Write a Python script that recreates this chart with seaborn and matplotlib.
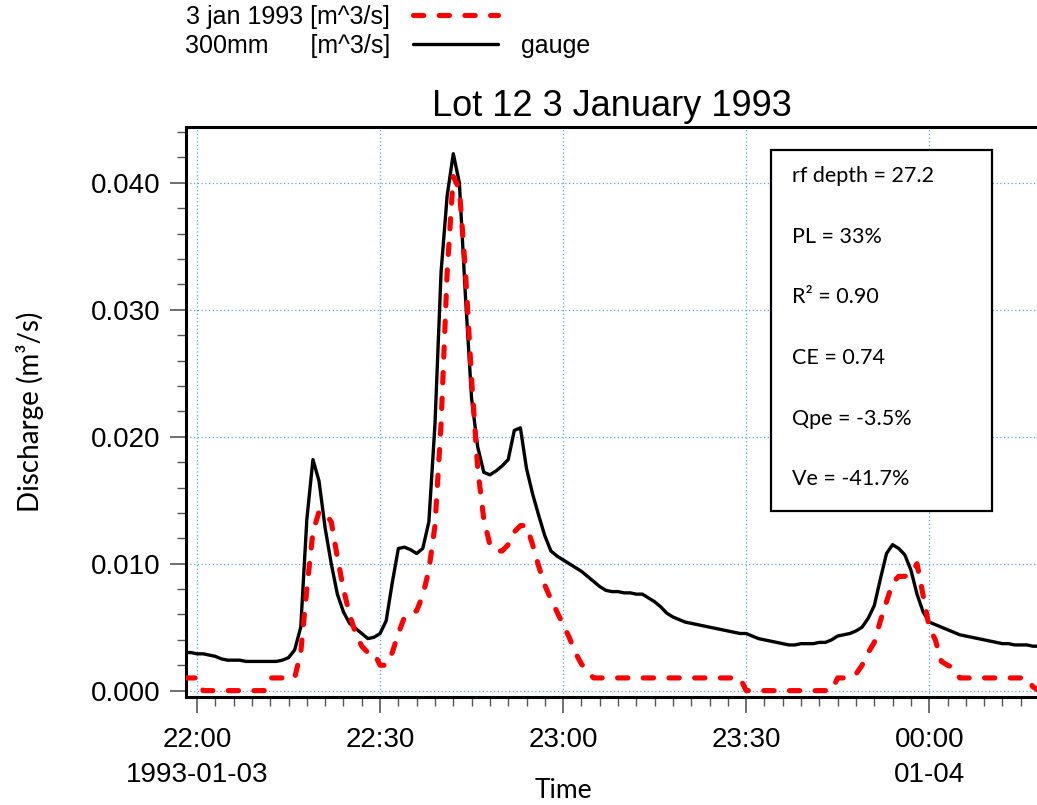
import numpy as np
import pandas as pd
import matplotlib
matplotlib.use("Agg")
import matplotlib.pyplot as plt
import matplotlib.dates as mdates
from matplotlib.ticker import FuncFormatter, MultipleLocator
from matplotlib.patches import Rectangle
import seaborn as sns

# ---- data: 1-minute discharge series starting 1993-01-03 21:58 ----
series_start = "1993-01-03 21:58"

modelled = [
    0.0010, 0.0010, 0.0010, 0.0000, 0.0000, 0.0000, 0.0000, 0.0000, 0.0000, 0.0000,  # 21:58
    0.0000, 0.0000, 0.0000, 0.0000, 0.0010, 0.0010, 0.0010, 0.0010, 0.0010, 0.0030,  # 22:08
    0.0080, 0.0125, 0.0141, 0.0140, 0.0133, 0.0105, 0.0080, 0.0060, 0.0045, 0.0035,  # 22:18
    0.0030, 0.0030, 0.0020, 0.0020, 0.0030, 0.0045, 0.0058, 0.0060, 0.0063, 0.0075,  # 22:28
    0.0095, 0.0130, 0.0210, 0.0330, 0.0405, 0.0395, 0.0330, 0.0245, 0.0175, 0.0135,  # 22:38
    0.0115, 0.0110, 0.0110, 0.0115, 0.0125, 0.0130, 0.0130, 0.0115, 0.0098, 0.0083,  # 22:48
    0.0072, 0.0062, 0.0052, 0.0042, 0.0030, 0.0021, 0.0015, 0.0010, 0.0010, 0.0010,  # 22:58
    0.0010, 0.0010, 0.0010, 0.0010, 0.0010, 0.0010, 0.0010, 0.0010, 0.0010, 0.0010,  # 23:08
    0.0010, 0.0010, 0.0010, 0.0010, 0.0010, 0.0010, 0.0010, 0.0010, 0.0010, 0.0010,  # 23:18
    0.0010, 0.0010, 0.0000, 0.0000, 0.0000, 0.0000, 0.0000, 0.0000, 0.0000, 0.0000,  # 23:28
    0.0000, 0.0000, 0.0000, 0.0000, 0.0000, 0.0000, 0.0000, 0.0010, 0.0010, 0.0010,  # 23:38
    0.0013, 0.0020, 0.0030, 0.0038, 0.0055, 0.0070, 0.0085, 0.0090, 0.0090, 0.0092,  # 23:48
    0.0100, 0.0075, 0.0050, 0.0040, 0.0023, 0.0020, 0.0018, 0.0010, 0.0010, 0.0010,  # 23:58
    0.0010, 0.0010, 0.0010, 0.0010, 0.0010, 0.0010, 0.0010, 0.0010, 0.0010, 0.0003,  # 00:08
    0.0000,                                                                          # 00:18
]

gauge = [
    0.0030, 0.0030, 0.0029, 0.0029, 0.0028, 0.0027, 0.0025, 0.0024, 0.0024, 0.0024,
    0.0023, 0.0023, 0.0023, 0.0023, 0.0023, 0.0023, 0.0024, 0.0026, 0.0032, 0.0050,
    0.0135, 0.0182, 0.0165, 0.0128, 0.0100, 0.0076, 0.0062, 0.0053, 0.0049, 0.0045,
    0.0041, 0.0042, 0.0045, 0.0055, 0.0085, 0.0112, 0.0113, 0.0111, 0.0108, 0.0112,
    0.0133, 0.0210, 0.0330, 0.0390, 0.0423, 0.0400, 0.0310, 0.0230, 0.0192, 0.0172,
    0.0170, 0.0173, 0.0177, 0.0182, 0.0205, 0.0207, 0.0175, 0.0155, 0.0138, 0.0122,
    0.0110, 0.0106, 0.0103, 0.0100, 0.0097, 0.0094, 0.0090, 0.0086, 0.0082, 0.0079,
    0.0078, 0.0078, 0.0077, 0.0077, 0.0076, 0.0076, 0.0073, 0.0070, 0.0066, 0.0061,
    0.0058, 0.0056, 0.0054, 0.0053, 0.0052, 0.0051, 0.0050, 0.0049, 0.0048, 0.0047,
    0.0046, 0.0045, 0.0045, 0.0043, 0.0041, 0.0040, 0.0039, 0.0038, 0.0037, 0.0036,
    0.0036, 0.0037, 0.0037, 0.0037, 0.0038, 0.0038, 0.0040, 0.0043, 0.0044, 0.0045,
    0.0047, 0.0050, 0.0057, 0.0067, 0.0088, 0.0108, 0.0115, 0.0112, 0.0107, 0.0095,
    0.0076, 0.0062, 0.0054, 0.0052, 0.0050, 0.0048, 0.0046, 0.0044, 0.0043, 0.0042,
    0.0041, 0.0040, 0.0039, 0.0038, 0.0037, 0.0037, 0.0036, 0.0036, 0.0036, 0.0035,
    0.0035,
]

legend_labels = ["3 jan 1993 [m^3/s]", "300mm      [m^3/s]"]
gauge_note = "gauge"
chart_title = "Lot 12 3 January 1993"
y_label = "Discharge (m³/s)"
x_label = "Time"
date_labels = {"22:00": "1993-01-03", "00:00": "01-04"}
stats_lines = ["rf depth = 27.2", "PL = 33%", "R² = 0.90",
               "CE = 0.74", "Qpe = -3.5%", "Ve = -41.7%"]

times = pd.date_range(series_start, periods=len(gauge), freq="min")
df = pd.DataFrame({"time": times, "modelled": modelled, "gauge": gauge})

# ---- style ----
sns.set_theme(style="white")
plt.rcParams["font.family"] = ["Liberation Sans", "DejaVu Sans"]
plt.rcParams.update({"text.color": "black", "axes.labelcolor": "black",
                     "xtick.color": "black", "ytick.color": "black"})
label_font = ["Lato", "DejaVu Sans"]

fig = plt.figure(figsize=(10.37, 8.05), dpi=100)
ax = fig.add_axes([0.1794, 0.1342, 0.8206, 0.7080])

sns.lineplot(data=df, x="time", y="gauge", ax=ax, color="black",
             linewidth=2.4, zorder=3, solid_joinstyle="round")
sns.lineplot(data=df, x="time", y="modelled", ax=ax, color="#ff0000",
             linewidth=3.7, linestyle=(0, (2.0, 3.0)),
             dash_capstyle="round", zorder=4)

# ---- axes limits & ticks ----
t0 = pd.Timestamp("1993-01-03 21:58:12")
t1 = pd.Timestamp("1993-01-04 00:17:40")
ax.set_xlim(t0, t1)
ax.set_ylim(-0.0005, 0.0444)

ax.xaxis.set_major_locator(mdates.MinuteLocator(byminute=[0, 30]))
ax.xaxis.set_minor_locator(mdates.MinuteLocator(byminute=range(0, 60, 3)))


def time_label(x, pos):
    hm = mdates.num2date(x).strftime("%H:%M")
    return f"{hm}\n{date_labels[hm]}" if hm in date_labels else hm


ax.xaxis.set_major_formatter(FuncFormatter(time_label))
ax.yaxis.set_major_locator(MultipleLocator(0.010))
ax.yaxis.set_minor_locator(MultipleLocator(0.002))
ax.yaxis.set_major_formatter(FuncFormatter(lambda v, p: f"{v:.3f}"))

ax.tick_params(which="major", direction="out", length=11.5, width=1.2,
               color="#555555", labelcolor="black", labelsize=20, pad=7,
               bottom=True, left=True)
ax.tick_params(axis="x", which="major", pad=10)
ax.tick_params(which="minor", direction="out", length=6.5, width=1.0,
               color="#555555", bottom=True, left=True)
for lbl in ax.get_xticklabels():
    lbl.set_linespacing(1.45)

ax.grid(True, which="major", color="#5aa2f0", linestyle=(0, (1, 2)),
        linewidth=0.9)
ax.set_axisbelow(True)

for side in ("left", "bottom", "top"):
    ax.spines[side].set_color("black")
    ax.spines[side].set_linewidth(2.2)
ax.spines["right"].set_visible(False)

ax.set_title(chart_title, fontsize=26, pad=8, color="black")
ax.set_xlabel(x_label, fontsize=19, family=label_font)
ax.xaxis.set_label_coords(0.443, -0.143)
ax.set_ylabel(y_label, fontsize=20, family=label_font)
ax.yaxis.set_label_coords(-0.167, 0.5)

# ---- statistics panel ----
ax.add_patch(Rectangle((0.6874, 0.3263), 0.2597, 0.6333, transform=ax.transAxes,
                       facecolor="white", edgecolor="black", linewidth=1.6,
                       zorder=5))
for i, line in enumerate(stats_lines):
    ax.text(0.712, 0.914 - i * 0.1064, line, transform=ax.transAxes,
            fontsize=15.5, family=label_font, ha="left", va="center", zorder=6)

# ---- legend ----
handles = ax.get_lines()[-1:] + ax.get_lines()[:1]
leg = fig.legend(handles, legend_labels, loc="upper left",
                 bbox_to_anchor=(185 / 1037, 1 - 5 / 805), frameon=False,
                 markerfirst=False, fontsize=18, handlelength=3.4,
                 handletextpad=0.9, labelspacing=0.2, borderpad=0,
                 borderaxespad=0)
fig.text(521 / 1037, 1 - 46 / 805, gauge_note, fontsize=18,
         ha="left", va="center")

fig.savefig("out.png", dpi=100)
